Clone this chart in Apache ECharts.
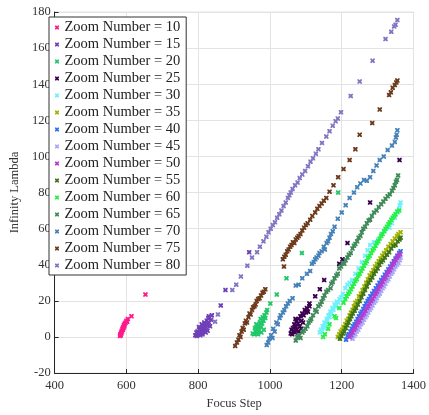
<!DOCTYPE html>
<html><head><meta charset="utf-8">
<script src="https://cdn.jsdelivr.net/npm/echarts@6/dist/echarts.min.js"></script>
<style>html,body{margin:0;padding:0;background:#fff}#c{width:429px;height:415px}</style>
</head><body><div id="c"></div>
<script>
var xTicks = [400, 600, 800, 1000, 1200, 1400];
var yTicks = [-20, 0, 20, 40, 60, 80, 100, 120, 140, 160, 180];
var names = ['Zoom Number = 10','Zoom Number = 15','Zoom Number = 20','Zoom Number = 25','Zoom Number = 30','Zoom Number = 35','Zoom Number = 40','Zoom Number = 45','Zoom Number = 50','Zoom Number = 55','Zoom Number = 60','Zoom Number = 65','Zoom Number = 70','Zoom Number = 75','Zoom Number = 80'];
var colors = ['#ff1a8c','#7040b8','#20c868','#3c0050','#6ff0ff','#a0b400','#3070f0','#a8a8f8','#b43cd0','#3f7418','#28f048','#3f8a58','#4682b8','#6e3a1c','#8474c4'];

var z10 = [[582,0.5],[583,1.5],[584,1],[585,2.5],[586,2],[587,3.5],[588,3],[589,4.5],[590,4],[591,5.5],[592,5],[593,6.5],[594,6],[595,7],[596,7.5],[598,8],[600,9],[602,8.5],[604,10],[614,11.5],[653,23.5]];
var z15 = [[792,1],[796,0.5],[800,1.5],[798,3],[803,2],[806,1],[808,3.5],[804,4.5],[810,2.5],[812,5],[815,3],[814,6.5],[818,4.5],[820,7],[822,5.5],[817,8],[824,9],[826,6.5],[828,10.5],[830,8],[833,6],[836,9.5],[838,12],[802,5.5],[810,7],[795,2.5],[812,1.5],[821,2.5],[826,3.5],[830,11.5],[863,17.5],[876,26],[942,47]];
var z20 = [[952,2],[956,1.5],[960,3],[958,5],[963,2],[965,4.5],[968,6],[962,7],[970,3.5],[972,8],[975,5.5],[974,10],[978,7.5],[980,11],[982,9],[985,12],[987,10.5],[967,1.5],[976,2.5],[983,4],[990,13.5],[992,15],[1001,18.5],[1019,23.5],[1046,32.5],[1089,46.5],[1190,80]];
var z25 = [[1058,2],[1062,1.5],[1066,3],[1064,5],[1070,2.5],[1072,5.5],[1068,7],[1075,4],[1078,7.5],[1074,9],[1080,10],[1083,6],[1085,11.5],[1088,9],[1090,13],[1094,12],[1097,15],[1100,13.5],[1103,16],[1106,14],[1110,17],[1080,3],[1087,4.5],[1092,8],[1060,4],[1071,10],[1110,18.5],[1126,22.5],[1139,26.5],[1151,31.5],[1193,40.5],[1202,43],[1216,52],[1279,74.5],[1361,98]];
var z30 = [[1139,2.5],[1142,4],[1145,3],[1147,6],[1150,5],[1152,8],[1155,7],[1158,10],[1160,9],[1163,12],[1166,11],[1168,14],[1171,13],[1174,16],[1177,15],[1180,18],[1183,17],[1186,19.5],[1190,19],[1194,21],[1198,22],[1203,24],[1210,27],[1216,29],[1222,30],[1229,31.5],[1238,35],[1247,38],[1256,41.5],[1265,45],[1272,48],[1279,51],[1290,52.5],[1301,54],[1310,57],[1320,59],[1333,60.5],[1340,63],[1348,66],[1355,69],[1360,71],[1364,74.5],[1362,73]];
var z35 = [[1189,0],[1193,1.5],[1197,3],[1201,4],[1205,5.5],[1210,7],[1214,9],[1218,10],[1222,12],[1226,13.5],[1230,15],[1234,17],[1238,19],[1243,20],[1248,22.5],[1253,24],[1258,26],[1263,28],[1268,30],[1273,32],[1278,34],[1283,35.5],[1288,37],[1293,39],[1298,40.5],[1303,42],[1308,43.5],[1313,45],[1318,46.5],[1324,48],[1330,50],[1336,51.5],[1342,53],[1348,54.5],[1354,56],[1358,57],[1364,58]];
var z40 = [[1212,-1.5],[1216,0.5],[1220,1.5],[1224,3],[1228,4.5],[1232,6],[1236,7],[1240,8.5],[1244,10],[1248,11.5],[1252,13],[1256,14],[1260,15.5],[1264,17],[1268,18.5],[1272,20],[1276,21],[1280,22.5],[1285,24],[1290,25.5],[1295,27],[1300,28.5],[1305,30],[1310,31.5],[1315,33],[1320,34.5],[1325,36],[1330,37.5],[1335,39],[1340,40.5],[1345,42],[1350,43.5],[1355,45],[1360,46.5],[1364,47.5]];
var z45 = [[1230,-1],[1234,0.5],[1238,1.5],[1242,3],[1246,4],[1250,5.5],[1254,7],[1258,8],[1262,9.5],[1266,11],[1270,12],[1274,13.5],[1278,15],[1282,16],[1286,17.5],[1290,19],[1294,20],[1298,21.5],[1302,23],[1306,24],[1310,25.5],[1314,27],[1318,28],[1322,29.5],[1326,31],[1330,32],[1334,33.5],[1338,35],[1342,36],[1346,37.5],[1350,39],[1354,40],[1358,41],[1362,42.5],[1364,44]];
var z50 = [[1222,0],[1226,1],[1230,2.5],[1234,4],[1238,5],[1242,6.5],[1246,8],[1250,9],[1254,10.5],[1258,12],[1262,13],[1266,14.5],[1270,16],[1274,17],[1278,18.5],[1282,20],[1286,21],[1290,22.5],[1294,24],[1298,25],[1302,26.5],[1306,28],[1310,29],[1314,30.5],[1318,32],[1322,33],[1326,34.5],[1330,36],[1334,37],[1338,38.5],[1342,40],[1346,41],[1350,42.5],[1354,44],[1358,45],[1362,46]];
var z55 = [[1195,-1],[1199,0.5],[1203,2],[1207,3],[1211,5],[1215,6.5],[1219,8],[1223,10],[1227,11.5],[1231,13],[1236,14.5],[1240,16],[1245,18],[1250,20],[1255,22],[1260,24],[1265,26],[1270,28],[1275,30],[1280,31.5],[1285,33],[1290,35],[1295,36.5],[1300,38],[1305,40],[1310,41.5],[1315,42.5],[1320,44],[1326,45.5],[1332,47],[1338,49],[1344,50.5],[1350,51],[1356,53],[1361,54],[1364,55]];
var z60 = [[1148,0],[1153,1.5],[1162,4.5],[1166,7],[1180,11.5],[1184,10.5],[1193,16],[1205,19],[1210,21],[1214,22.5],[1218,24],[1222,25],[1226,26.5],[1230,28],[1234,29.5],[1238,31],[1242,32],[1246,34],[1250,35],[1254,36.5],[1258,38],[1262,39.5],[1266,41],[1270,42],[1274,44],[1278,45],[1282,46.5],[1286,48],[1290,49],[1294,50.5],[1298,52],[1302,53],[1306,54.5],[1310,56],[1314,57],[1318,58.5],[1322,60],[1326,61],[1330,62.5],[1334,63.5],[1338,65],[1342,66],[1346,67],[1350,68],[1355,69.5],[1360,70]];
var z65 = [[1072,-2],[1076,0],[1081,1],[1085,-0.5],[1090,2.5],[1094,3.5],[1099,4.5],[1104,6],[1108,8],[1112,9],[1115,10],[1120,12],[1126,15],[1130,14],[1135,17],[1140,18],[1144,19.5],[1148,21.5],[1152,23],[1157,25],[1162,26],[1169,27],[1171,29.5],[1175,30.5],[1180,32.5],[1185,34],[1189,35],[1193,38],[1198,39],[1203,41],[1207,40.5],[1211,42.5],[1216,44],[1220,45.5],[1225,46.5],[1230,49],[1234,50.5],[1238,51.5],[1243,53],[1247,55],[1252,56],[1256,58],[1260,60],[1265,61],[1270,63],[1275,64.5],[1279,65],[1284,67],[1290,69],[1297,70],[1303,72],[1310,73.5],[1316,75],[1322,76.5],[1328,78],[1334,79],[1340,81],[1344,82.5],[1348,84],[1351,86],[1354,87],[1357,89.5]];
var z70 = [[991,-4.5],[995,-3],[998,-1],[1003,1],[1007,-0.5],[1009,4.5],[1013,3],[1018,8],[1022,7],[1027,10.5],[1030,12],[1036,13.5],[1040,15],[1045,17],[1050,18.5],[1055,20],[1063,21.5],[1072,28.5],[1080,29],[1090,32.5],[1103,35],[1112,36.5],[1117,40.5],[1122,41.5],[1126,43],[1130,44],[1135,45],[1138,46.5],[1144,47.5],[1150,50],[1153,48.5],[1158,52],[1162,53],[1166,55],[1170,57],[1175,58.5],[1180,61],[1189,65.5],[1200,69],[1211,73],[1222,77],[1234,80],[1243,83],[1252,85],[1262,87],[1270,86.5],[1279,88.5],[1288,92],[1297,95],[1306,98],[1317,100],[1328,103.5],[1340,106],[1348,108],[1351,110.5],[1353,112],[1355,114.5]];
var z75 = [[903,-5],[908,-3],[912,-1.5],[915,1],[918,0],[921,3],[924,5],[927,4],[930,7.5],[933,9],[936,8],[940,11],[943,13],[946,12.5],[950,15],[953,16.5],[957,17],[960,18],[963,20],[967,21],[971,21.5],[975,23],[979,24.5],[983,25],[987,26.5],[1036,43],[1039,39],[1040,44.5],[1044,45.5],[1048,47.5],[1052,48.5],[1056,50],[1060,51],[1064,52.5],[1068,52],[1072,54],[1076,55],[1080,56],[1085,57],[1090,59],[1095,60.5],[1100,62],[1105,63],[1112,65],[1118,67],[1126,69],[1132,71],[1138,72.5],[1144,74],[1150,75.5],[1157,77],[1166,80.5],[1177,84],[1190,88.5],[1205,93],[1222,98],[1238,104],[1250,112],[1285,118.5],[1306,126],[1332,134],[1337,135.5],[1342,138],[1348,139.5],[1352,141],[1355,142]];
var z80 = [[847,8.5],[855,12.5],[895,26],[906,29],[919,33.5],[937,39.5],[950,44],[964,47],[972,50],[982,53],[990,55.5],[996,58],[1002,60],[1008,62],[1014,63.5],[1020,66],[1026,68],[1032,70],[1038,72.5],[1044,74.5],[1050,77],[1054,78.5],[1058,80],[1063,82],[1070,84],[1077,85.5],[1083,88],[1090,90],[1098,92],[1106,94.5],[1113,97],[1120,99],[1128,101.5],[1135,104],[1145,107.5],[1157,111],[1166,114],[1175,117],[1183,119.5],[1189,121],[1198,124.5],[1225,133.5],[1250,141.5],[1286,153],[1322,165],[1338,169],[1346,172],[1350,173],[1355,175.5]];

var allData = [z10,z15,z20,z25,z30,z35,z40,z45,z50,z55,z60,z65,z70,z75,z80];
var xSym = 'path://M0,0L3,0L5,2L7,0L10,0L10,3L8,5L10,7L10,10L7,10L5,8L3,10L0,10L0,7L2,5L0,3Z';
var font = 'Liberation Serif';
var series = allData.map(function(d, i){
  return {type:'scatter', name:names[i], data:d, symbol:xSym, symbolSize:4.5,
    itemStyle:{color:colors[i], opacity:1}, animation:false};
});
function plain(v){ return String(v); }
var chart = echarts.init(document.getElementById('c'), null, {renderer:'canvas'});
chart.setOption({
  animation:false,
  color: colors,
  grid:{left:44, right:14, top:12, bottom:33, show:true, borderColor:'#e3e3e3', borderWidth:1},
  legend:{orient:'vertical', left:49, top:17, padding:[3,6,2,6], itemGap:2, itemWidth:5, itemHeight:4,
    backgroundColor:'#fff', borderColor:'#333', borderWidth:1, data:names,
    textStyle:{fontFamily:font, fontSize:14.5, color:'#222', lineHeight:14}},
  xAxis:{type:'value', min:400, max:1400, interval:200, name:'Focus Step', nameLocation:'middle', nameGap:19,
    nameTextStyle:{fontFamily:font, fontSize:12.5, color:'#333'},
    axisLine:{onZero:false, lineStyle:{color:'#262626'}}, axisTick:{inside:true, length:4, lineStyle:{color:'#262626'}},
    axisLabel:{fontFamily:font, fontSize:12.5, color:'#333', margin:6, formatter:plain},
    splitLine:{show:true, lineStyle:{color:'#e3e3e3'}}},
  yAxis:{type:'value', min:-20, max:180, interval:20, name:'Infinity Lambda', nameLocation:'middle', nameGap:24,
    nameTextStyle:{fontFamily:font, fontSize:12.5, color:'#333'},
    axisLine:{onZero:false, lineStyle:{color:'#262626'}}, axisTick:{inside:true, length:4, lineStyle:{color:'#262626'}},
    axisLabel:{fontFamily:font, fontSize:12.5, color:'#333', margin:4, formatter:plain},
    splitLine:{show:true, lineStyle:{color:'#e3e3e3'}}},
  series: series
});
</script></body></html>
